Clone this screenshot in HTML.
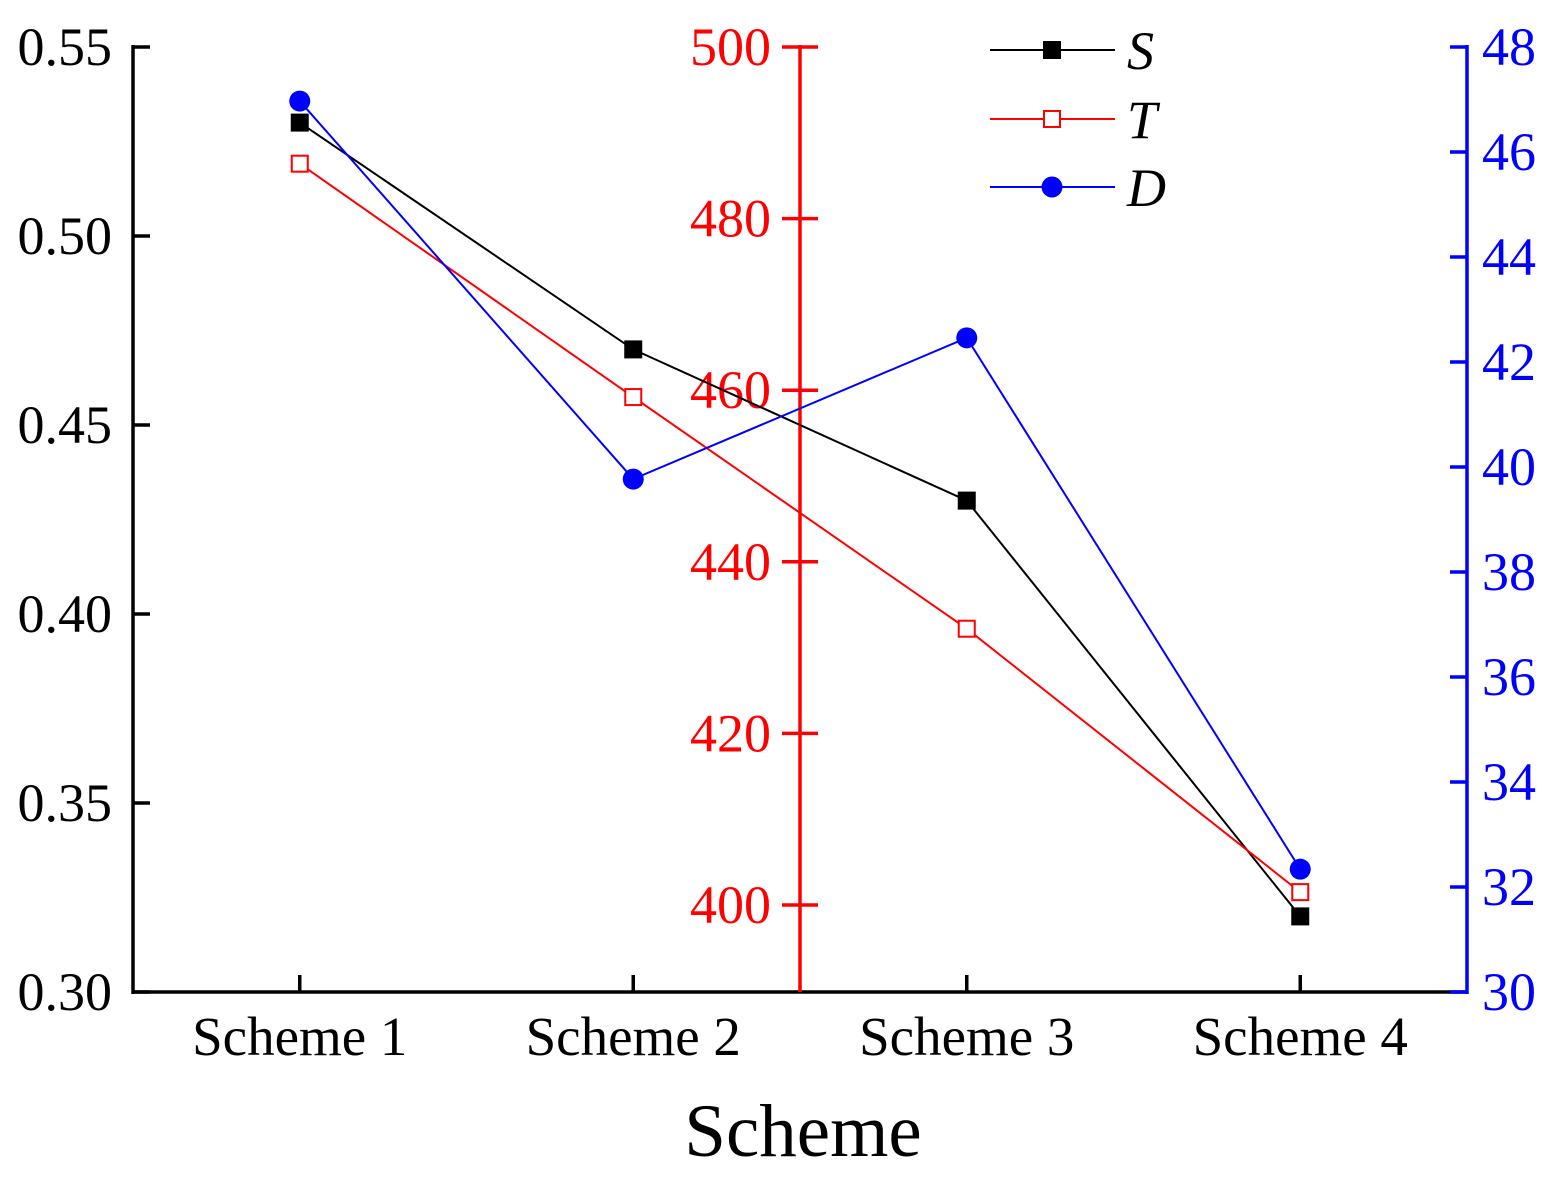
<!DOCTYPE html>
<html><head><meta charset="utf-8"><style>
html,body{margin:0;padding:0;background:#fff}
svg text{font-family:"Liberation Serif",serif}
</style></head><body>
<svg id="chart" width="1557" height="1183" xmlns="http://www.w3.org/2000/svg">
<g id="g"></g>
</svg>
<script>
const categories=["Scheme 1","Scheme 2","Scheme 3","Scheme 4"];
const sValues=[0.530,0.470,0.430,0.320];
const tValues=[486.4,459.2,432.2,401.5];
const dValues=[46.97,39.77,42.46,32.34];
const leftTicks=["0.30","0.35","0.40","0.45","0.50","0.55"];
const redTicks=["400","420","440","460","480","500"];
const blueTicks=["30","32","34","36","38","40","42","44","46","48"];

const NS="http://www.w3.org/2000/svg";
const g=document.getElementById('g');
function el(t,a,txt){const e=document.createElementNS(NS,t);for(const k in a)e.setAttribute(k,a[k]);if(txt!==undefined)e.textContent=txt;g.appendChild(e);return e;}
const X0=133,X1=1467,Y0=992,Y1=47;
const xs=i=>X0+(i+0.5)*(X1-X0)/categories.length;
const yL=v=>Y0-(v-0.30)/(0.25)*(Y0-Y1);
const yR=v=>905-(v-400)/100*(905-47);
const yB=v=>Y0-(v-30)/18*(Y0-Y1);

let a=el('line',{x1:X0,y1:Y1-2,x2:X0,y2:Y0+2,stroke:'#000','stroke-width':3.5});

a=el('line',{x1:X0,y1:Y0,x2:X1,y2:Y0,stroke:'#000','stroke-width':3.5});

a=el('line',{x1:800,y1:Y1-2,x2:800,y2:Y0,stroke:'#f00','stroke-width':3.5});

a=el('line',{x1:X1,y1:Y1-2,x2:X1,y2:Y0+2,stroke:'#00f','stroke-width':3.5});


leftTicks.forEach(t=>{const y=yL(+t);
 el('line',{x1:X0,y1:y,x2:X0+17,y2:y,stroke:'#000','stroke-width':3.5});
 const tx=el('text',{x:112,y:y+18,'text-anchor':'end','font-size':54,fill:'#000'},t);
 });
redTicks.forEach(t=>{const y=yR(+t);
 el('line',{x1:782,y1:y,x2:818,y2:y,stroke:'#f00','stroke-width':3.5});
 const tx=el('text',{x:771,y:y+18,'text-anchor':'end','font-size':54,fill:'#f00'},t);
 });
blueTicks.forEach(t=>{const y=yB(+t);
 el('line',{x1:X1-17,y1:y,x2:X1,y2:y,stroke:'#00f','stroke-width':3.5});
 const tx=el('text',{x:1482,y:y+18,'text-anchor':'start','font-size':54,fill:'#00f'},t);
 });
categories.forEach((c,i)=>{const x=xs(i);
 el('line',{x1:x,y1:Y0,x2:x,y2:Y0-17,stroke:'#000','stroke-width':3.5});
 const tx=el('text',{x:x,y:1055,'text-anchor':'middle','font-size':55,fill:'#000'},c);
 });
let tt=el('text',{x:803,y:1156,'text-anchor':'middle','font-size':75,fill:'#000'},'Scheme');


function series(vals,sc,color,kind,name){
 const pts=vals.map((v,i)=>xs(i)+','+sc(v)).join(' ');
 const l=el('polyline',{points:pts,fill:'none',stroke:color,'stroke-width':2});
 
 vals.forEach((v,i)=>marker(xs(i),sc(v),color,kind,name));
}
function marker(x,y,color,kind,name){
 let m;
 if(kind==='fsq')m=el('rect',{x:x-9,y:y-9,width:18,height:18,fill:color});
 else if(kind==='osq')m=el('rect',{x:x-8,y:y-8,width:16,height:16,fill:'#fff',stroke:color,'stroke-width':2});
 else m=el('circle',{cx:x,cy:y,r:10.5,fill:color});
 
}
series(sValues,yL,'#000','fsq','s');
series(tValues,yR,'#f00','osq','t');
series(dValues,yB,'#00f','circ','d');

[['S','#000','fsq',50],['T','#f00','osq',119],['D','#00f','circ',187]].forEach(([n,c,k,y])=>{
 const l=el('line',{x1:990,y1:y,x2:1115,y2:y,stroke:c,'stroke-width':2});
 
 marker(1052,y,c,k,'legend-'+n.toLowerCase());
 const t=el('text',{x:1127,y:y+19,'font-size':54,'font-style':'italic',fill:'#000'},n);
 
});
</script>
</body></html>
